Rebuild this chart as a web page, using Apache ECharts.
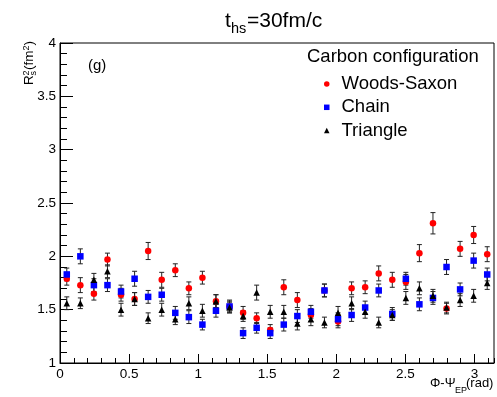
<!DOCTYPE html>
<html>
<head>
<meta charset="utf-8">
<script src="https://cdn.jsdelivr.net/npm/echarts@6/dist/echarts.min.js"></script>
<style>
  html, body { margin: 0; padding: 0; background: #fff; }
  #chart { width: 497px; height: 397px; }
</style>
</head>
<body>
<div id="chart"></div>
<script>
// Bin centres of Φ-Ψ_EP (32 bins over [0, π])
const phi = [
  0.0491, 0.1473, 0.2454, 0.3436, 0.4418, 0.5400, 0.6381, 0.7363,
  0.8345, 0.9327, 1.0308, 1.1290, 1.2272, 1.3254, 1.4235, 1.5217,
  1.6199, 1.7181, 1.8162, 1.9144, 2.0126, 2.1108, 2.2089, 2.3071,
  2.4053, 2.5035, 2.6016, 2.6998, 2.7980, 2.8962, 2.9943, 3.0925
];

// R_s^2 (fm^2) for each carbon configuration, with statistical errors
const woodsSaxon = [
  1.79, 1.73, 1.65, 1.97, 1.64, 1.60, 2.05, 1.78, 1.87, 1.70, 1.80, 1.58, 1.53, 1.47, 1.42, 1.31,
  1.71, 1.59, 1.45, 1.68, 1.39, 1.70, 1.71, 1.84, 1.78, 1.76, 2.03, 2.31, 1.51, 2.07, 2.20, 2.02
];
const woodsSaxonErr = [
  0.06, 0.07, 0.06, 0.06, 0.06, 0.06, 0.08, 0.07, 0.06, 0.06, 0.06, 0.06, 0.06, 0.06, 0.05, 0.05,
  0.07, 0.07, 0.06, 0.06, 0.06, 0.06, 0.06, 0.07, 0.07, 0.07, 0.08, 0.10, 0.05, 0.07, 0.08, 0.07
];
const chain = [
  1.83, 2.00, 1.73, 1.73, 1.67, 1.79, 1.62, 1.64, 1.47, 1.43, 1.36, 1.49, 1.53, 1.28, 1.33, 1.28,
  1.36, 1.44, 1.48, 1.68, 1.41, 1.45, 1.52, 1.68, 1.46, 1.79, 1.55, 1.61, 1.90, 1.69, 1.96, 1.83
];
const chainErr = [
  0.06, 0.07, 0.06, 0.06, 0.06, 0.07, 0.06, 0.06, 0.06, 0.06, 0.05, 0.06, 0.05, 0.05, 0.05, 0.05,
  0.06, 0.06, 0.06, 0.06, 0.06, 0.06, 0.06, 0.06, 0.06, 0.06, 0.06, 0.06, 0.07, 0.06, 0.07, 0.06
];
const triangle = [
  1.56, 1.56, 1.78, 1.86, 1.50, 1.60, 1.42, 1.50, 1.41, 1.56, 1.49, 1.58, 1.52, 1.44, 1.66, 1.48,
  1.48, 1.37, 1.41, 1.38, 1.47, 1.56, 1.48, 1.38, 1.45, 1.61, 1.70, 1.63, 1.52, 1.59, 1.63, 1.75
];
const triangleErr = [
  0.06, 0.05, 0.06, 0.06, 0.06, 0.06, 0.05, 0.06, 0.05, 0.06, 0.06, 0.06, 0.05, 0.05, 0.07, 0.06,
  0.06, 0.06, 0.06, 0.05, 0.06, 0.06, 0.06, 0.05, 0.05, 0.06, 0.06, 0.06, 0.05, 0.06, 0.06, 0.06
];

const FONT = 'Liberation Sans';

function points(values, errors) {
  return phi.map((x, i) => [x, values[i], errors[i]]);
}

// Vertical error bar with small end caps
function errorBarItem(params, api) {
  const x = api.value(0), y = api.value(1), e = api.value(2);
  const hi = api.coord([x, y + e]);
  const lo = api.coord([x, y - e]);
  const cap = 2.5;
  const style = { stroke: '#222', lineWidth: 1 };
  return {
    type: 'group',
    children: [
      { type: 'line', shape: { x1: hi[0], y1: hi[1], x2: lo[0], y2: lo[1] }, style },
      { type: 'line', shape: { x1: hi[0] - cap, y1: hi[1], x2: hi[0] + cap, y2: hi[1] }, style },
      { type: 'line', shape: { x1: lo[0] - cap, y1: lo[1], x2: lo[0] + cap, y2: lo[1] }, style }
    ]
  };
}

function errorSeries(name, values, errors) {
  return {
    name: name + ' err',
    type: 'custom',
    renderItem: errorBarItem,
    data: points(values, errors),
    encode: { x: 0, y: 1 },
    silent: true
  };
}

function markerSeries(name, values, errors, symbol, color, size) {
  return {
    name,
    type: 'scatter',
    symbol,
    symbolSize: size,
    itemStyle: { color, opacity: 1 },
    data: points(values, errors),
    encode: { x: 0, y: 1 },
    silent: true
  };
}

const chart = echarts.init(document.getElementById('chart'), null, { renderer: 'canvas' });

const txt = (size, text, extra) => Object.assign(
  { fontFamily: FONT, fontSize: size, fill: '#000', text }, extra || {});

chart.setOption({
  animation: false,
  backgroundColor: '#fff',
  grid: {
    left: 60, right: 3, top: 43, bottom: 34,
    show: true, borderColor: '#000', borderWidth: 1, backgroundColor: 'transparent'
  },
  xAxis: [
    {
      type: 'value', min: 0, max: Math.PI, interval: 0.5,
      position: 'bottom',
      axisLine: { show: true, onZero: false, lineStyle: { color: '#000', width: 1 } },
      axisTick: { show: true, inside: true, length: 9, lineStyle: { color: '#000' } },
      axisLabel: {
        show: true, showMaxLabel: false, margin: 4,
        fontFamily: FONT, fontSize: 13.5, color: '#000'
      },
      splitLine: { show: false }
    },
    {
      type: 'value', min: 0, max: Math.PI, interval: 0.1,
      position: 'bottom', offset: 0,
      axisLine: { show: false },
      axisTick: { show: true, inside: true, length: 5, lineStyle: { color: '#000' } },
      axisLabel: { show: false },
      splitLine: { show: false }
    }
  ],
  yAxis: {
    type: 'value', min: 1, max: 4, interval: 0.5,
    axisLine: { show: true, onZero: false, lineStyle: { color: '#000', width: 1 } },
    axisTick: { show: true, inside: true, length: 13, lineStyle: { color: '#000' } },
    minorTick: { show: true, splitNumber: 5, length: 7, lineStyle: { color: '#000' } },
    axisLabel: { margin: 4, fontFamily: FONT, fontSize: 13.5, color: '#000' },
    splitLine: { show: false }
  },
  legend: {
    orient: 'vertical',
    left: 319, top: 69,
    itemWidth: 5.5, itemHeight: 5.5, itemGap: 3.3,
    selectedMode: false,
    textStyle: {
      fontFamily: FONT, fontSize: 18.5, color: '#000', lineHeight: 20,
      padding: [0, 0, 0, 7]
    },
    data: [
      { name: 'Woods-Saxon', icon: 'circle' },
      { name: 'Chain', icon: 'rect' },
      { name: 'Triangle', icon: 'triangle' }
    ]
  },
  series: [
    errorSeries('Woods-Saxon', woodsSaxon, woodsSaxonErr),
    markerSeries('Woods-Saxon', woodsSaxon, woodsSaxonErr, 'circle', '#ff0000', 6.5),
    errorSeries('Chain', chain, chainErr),
    markerSeries('Chain', chain, chainErr, 'rect', '#0000ff', 6.5),
    errorSeries('Triangle', triangle, triangleErr),
    markerSeries('Triangle', triangle, triangleErr, 'triangle', '#000000', 6.5)
  ],
  graphic: [
    // Title t_hs=30fm/c
    { type: 'text', left: 225, top: 11, style: txt(21, 't') },
    { type: 'text', left: 231, top: 21, style: txt(14.5, 'hs') },
    { type: 'text', left: 247, top: 11, style: txt(21, '=30fm/c') },
    // Panel tag
    { type: 'text', left: 88, top: 58, style: txt(15, '(g)') },
    // Legend header
    { type: 'text', left: 307, top: 47, style: txt(18.5, 'Carbon configuration') },
    // X axis title Φ-Ψ_EP(rad)
    { type: 'text', left: 430, top: 377, style: txt(13, 'Φ-Ψ') },
    { type: 'text', left: 455, top: 386, style: txt(9, 'EP') },
    { type: 'text', left: 466, top: 377, style: txt(13, '(rad)') },
    // Y axis title R_s^2(fm^2), rotated to read upward
    {
      type: 'group', x: 36, y: 85, rotation: Math.PI / 2,
      children: [
        { type: 'text', x: 0, y: 0, style: txt(13.5, 'R', { verticalAlign: 'bottom' }) },
        { type: 'text', x: 9.5, y: -5, style: txt(9, '2', { verticalAlign: 'bottom' }) },
        { type: 'text', x: 9.5, y: 2, style: txt(9, 's', { verticalAlign: 'bottom' }) },
        { type: 'text', x: 15, y: 0, style: txt(13.5, '(fm', { verticalAlign: 'bottom' }) },
        { type: 'text', x: 34.5, y: -5, style: txt(9, '2', { verticalAlign: 'bottom' }) },
        { type: 'text', x: 39.5, y: 0, style: txt(13.5, ')', { verticalAlign: 'bottom' }) }
      ]
    }
  ]
});
</script>
</body>
</html>
